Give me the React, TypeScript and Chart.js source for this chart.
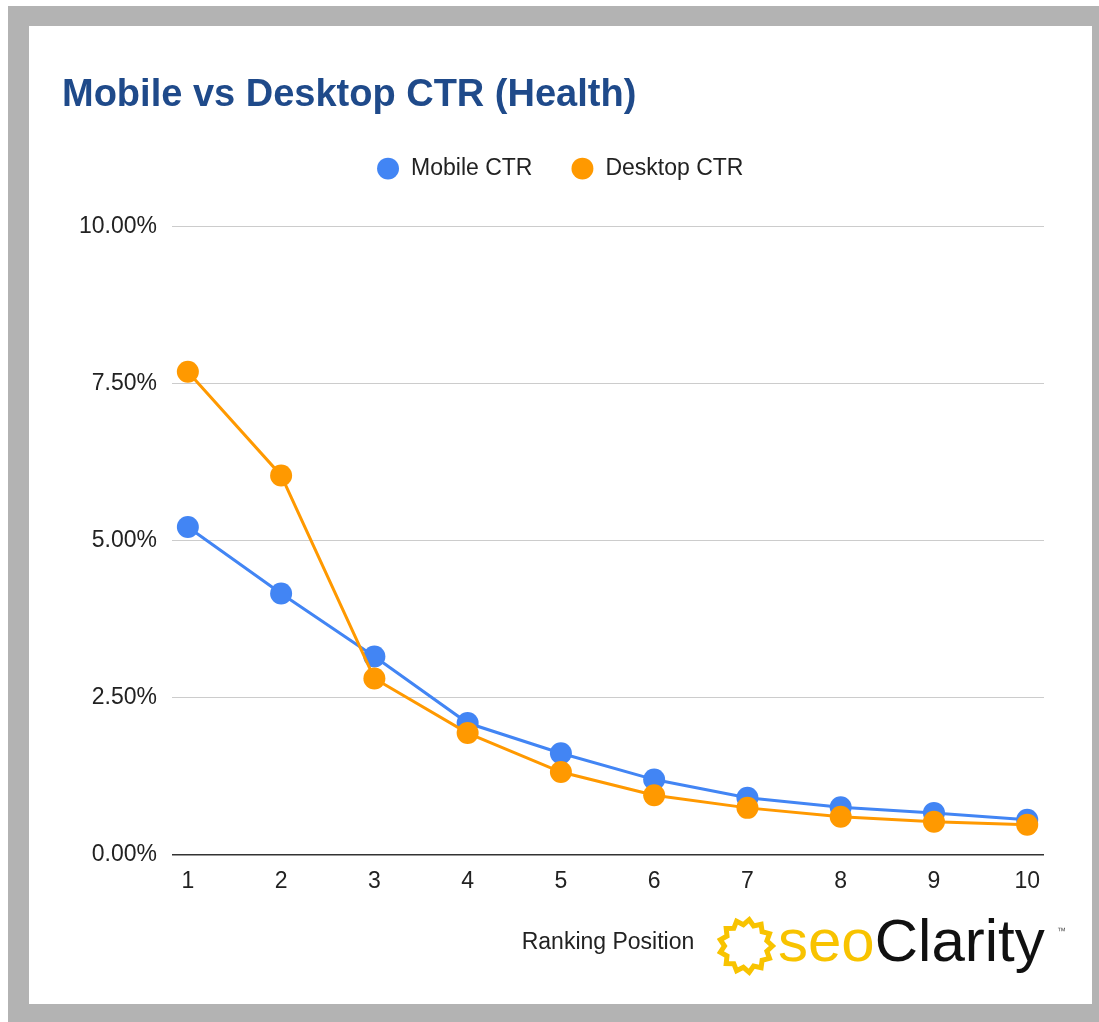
import React, { useEffect, useRef } from "react";
import { Chart, registerables } from "chart.js";

Chart.register(...registerables);

const chartTitle = "Mobile vs Desktop CTR (Health)";
const xAxisTitle = "Ranking Position";
const positions = [1, 2, 3, 4, 5, 6, 7, 8, 9, 10];
const mobileLabel = "Mobile CTR";
const desktopLabel = "Desktop CTR";
const mobileCTR = [5.22, 4.16, 3.16, 2.1, 1.62, 1.2, 0.91, 0.76, 0.67, 0.56];
const desktopCTR = [7.69, 6.04, 2.81, 1.94, 1.32, 0.95, 0.75, 0.61, 0.53, 0.48];
const yTicks = [0, 2.5, 5, 7.5, 10];

const FONT = "'Liberation Sans', Arial, sans-serif";
const BLUE = "#4285F4";
const ORANGE = "#FF9900";
const YELLOW = "#F8C300";

const legendSpacer = {
  id: "legendSpacer",
  beforeInit(chart: any) {
    const legend = chart.legend;
    if (!legend) return;
    const origFit = legend.fit;
    legend.fit = function () {
      origFit.call(this);
      this.height = 108;
    };
  },
  afterLayout(chart: any) {
    const legend = chart.legend;
    if (legend) {
      legend.left += 7;
      legend.right += 7;
    }
  },
};

function Logo() {
  const cx = 29;
  const cy = 40;
  const n = 13;
  const pts: string[] = [];
  for (let i = 0; i < n * 2; i++) {
    const a = (Math.PI * i) / n;
    const r = i % 2 === 0 ? 26.5 : 21.5;
    pts.push(`${(cx + r * Math.cos(a)).toFixed(1)},${(cy + r * Math.sin(a)).toFixed(1)}`);
  }
  return (
    <svg
      width={360}
      height={80}
      style={{ position: "absolute", left: 688, top: 880 }}
    >
      <polygon points={pts.join(" ")} fill="none" stroke={YELLOW} strokeWidth={5} strokeLinejoin="miter" />
      <text x={61} y={55} fontFamily={FONT} fontSize={60} fill={YELLOW}>
        seo<tspan fill="#111">Clarity</tspan>
      </text>
      <text x={340} y={28} fontFamily={FONT} fontSize={9} fill="#555">
        ™
      </text>
    </svg>
  );
}

export default function App() {
  const canvasRef = useRef<HTMLCanvasElement | null>(null);

  useEffect(() => {
    document.body.style.overflow = "hidden";
    const canvas = canvasRef.current;
    if (!canvas) return;
    const chart = new Chart(canvas, {
      type: "line",
      data: {
        labels: positions,
        datasets: [
          {
            label: mobileLabel,
            data: positions.map((p, i) => ({ x: p, y: mobileCTR[i] })),
            borderColor: BLUE,
            backgroundColor: BLUE,
            pointBackgroundColor: BLUE,
            pointBorderWidth: 0,
            pointRadius: 11,
            pointHoverRadius: 11,
            borderWidth: 3,
            order: 1,
          },
          {
            label: desktopLabel,
            data: positions.map((p, i) => ({ x: p, y: desktopCTR[i] })),
            borderColor: ORANGE,
            backgroundColor: ORANGE,
            pointBackgroundColor: ORANGE,
            pointBorderWidth: 0,
            pointRadius: 11,
            pointHoverRadius: 11,
            borderWidth: 3,
            order: 0,
          },
        ],
      },
      options: {
        animation: false,
        responsive: false,
        devicePixelRatio: 1,
        layout: { padding: { left: 33, right: 48, top: 0, bottom: 0 } },
        events: [],
        plugins: {
          tooltip: { enabled: false },
          title: {
            display: true,
            text: chartTitle,
            align: "start",
            color: "#1F4A8A",
            font: { family: FONT, size: 38, weight: "bold" },
            padding: { top: 47, bottom: 0 },
          },
          legend: {
            display: true,
            position: "top",
            align: "center",
            labels: {
              usePointStyle: true,
              pointStyle: "circle",
              boxHeight: 15.5,
              padding: 38.5,
              color: "#222",
              font: { family: FONT, size: 23 },
              sort: (a: any, b: any) => a.datasetIndex - b.datasetIndex,
            },
          },
        },
        scales: {
          x: {
            type: "linear",
            min: 0.83,
            max: 10.18,
            afterBuildTicks: (scale: any) => {
              scale.ticks = positions.map((v) => ({ value: v }));
            },
            afterFit: (scale: any) => {
              scale.height = 149;
            },
            grid: { display: false, drawTicks: false },
            border: { display: false },
            ticks: {
              padding: 13,
              color: "#222",
              font: { family: FONT, size: 23 },
              callback: (v: any) => String(v),
              maxRotation: 0,
              autoSkip: false,
            },
            title: {
              display: true,
              text: xAxisTitle,
              color: "#222",
              font: { family: FONT, size: 23 },
              padding: { top: 0, bottom: 48 },
            },
          },
          y: {
            type: "linear",
            min: 0,
            max: 10,
            afterBuildTicks: (scale: any) => {
              scale.ticks = yTicks.map((v) => ({ value: v }));
            },
            afterFit: (scale: any) => {
              scale.width = 110;
            },
            grid: {
              drawTicks: false,
              color: (ctx: any) => (ctx.tick && ctx.tick.value === 0 ? "#333333" : "#cccccc"),
              lineWidth: (ctx: any) => (ctx.tick && ctx.tick.value === 0 ? 1.5 : 1),
            },
            border: { display: false },
            ticks: {
              padding: 15,
              color: "#222",
              font: { family: FONT, size: 23 },
              callback: (v: any) => `${Number(v).toFixed(2)}%`,
            },
          },
        },
      },
      plugins: [legendSpacer],
    });
    return () => chart.destroy();
  }, []);

  return (
    <div
      style={{
        position: "absolute",
        left: 8,
        top: 6,
        width: 1091,
        height: 1016,
        background: "#b3b3b3",
      }}
    >
      <div
        style={{
          position: "absolute",
          left: 21,
          top: 20,
          width: 1063,
          height: 978,
          background: "#ffffff",
        }}
      >
        <canvas ref={canvasRef} width={1063} height={978} style={{ display: "block" }} />
        <Logo />
      </div>
    </div>
  );
}
